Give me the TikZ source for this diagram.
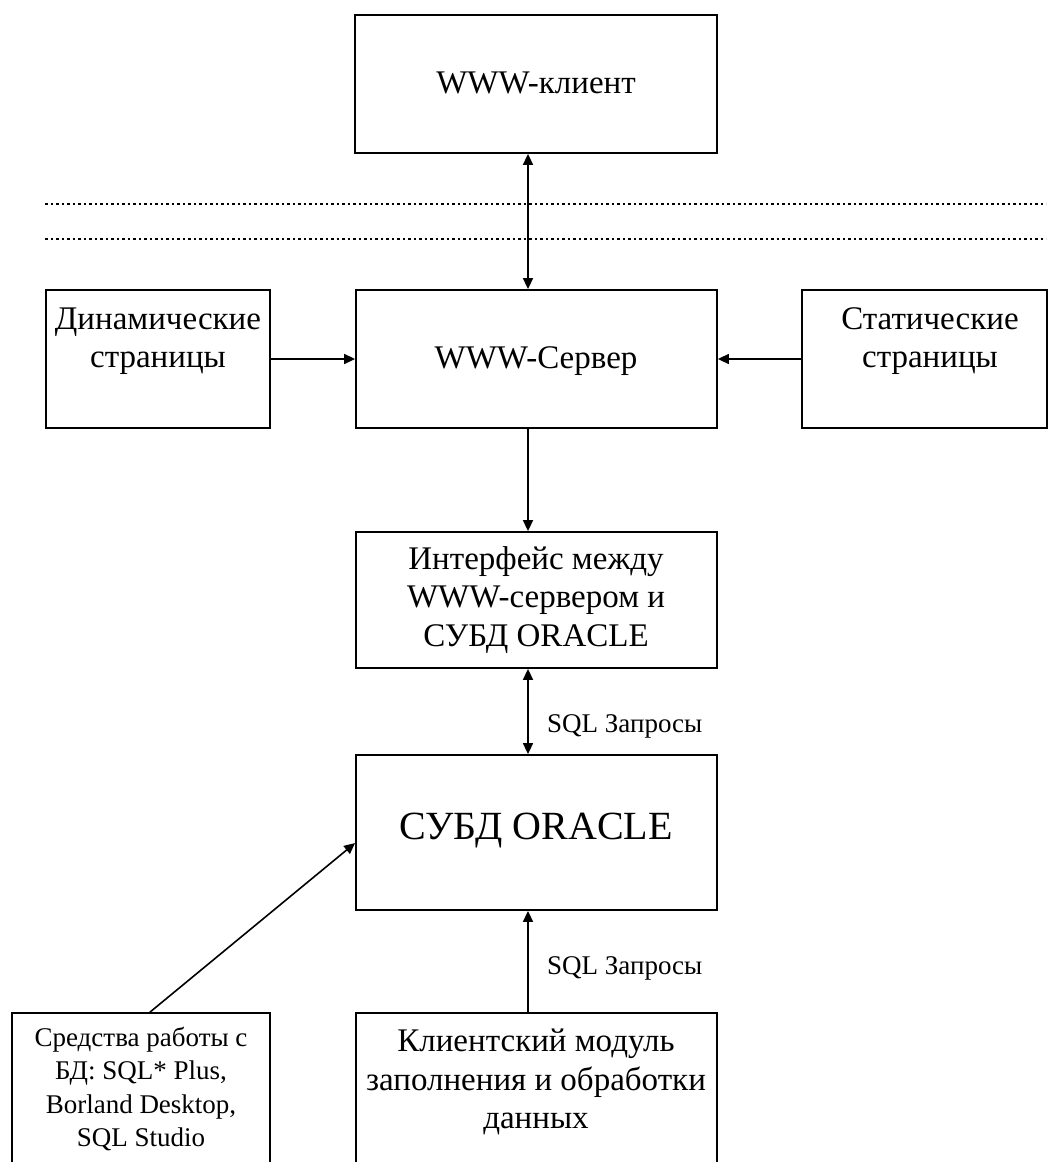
\documentclass[tikz,border=0pt]{standalone}
\usepackage{fontspec}
\setmainfont{Liberation Serif}
\usetikzlibrary{arrows.meta}
\tikzset{
  box/.style={draw, line width=1.8pt, rectangle, inner sep=0pt},
  txt/.style={align=center, inner sep=0pt, font=\fontsize{33}{38.5}\selectfont},
  smalltxt/.style={align=center, inner sep=0pt, font=\fontsize{27}{33.5}\selectfont},
  lbl/.style={inner sep=0pt, anchor=west, font=\fontsize{27}{33}\selectfont},
  tip/.style={Triangle[length=11pt,width=10pt]},
  conn/.style={line width=1.6pt, -{Triangle[length=11pt,width=10pt]}},
  biconn/.style={line width=1.6pt, {Triangle[length=11pt,width=10pt]}-{Triangle[length=11pt,width=10pt]}},
  dotline/.style={line width=1.8pt, dash pattern=on 2.5pt off 3pt}
}
\begin{document}
\begin{tikzpicture}[x=1pt,y=-1pt]
\useasboundingbox (0,0) rectangle (1048,1162);
\clip (0,0) rectangle (1048,1162);
% boxes
\node[box, minimum width=362, minimum height=138] (client) at (536,84) {};
\node[box, minimum width=224, minimum height=138] (dyn) at (158,359) {};
\node[box, minimum width=361, minimum height=138] (server) at (536.5,359) {};
\node[box, minimum width=245, minimum height=138] (static) at (924.5,359) {};
\node[box, minimum width=361, minimum height=136] (iface) at (536.5,600) {};
\node[box, minimum width=361, minimum height=155] (subd) at (536.5,832.5) {};
\node[box, minimum width=258, minimum height=200] (tools) at (141,1113) {};
\node[box, minimum width=361, minimum height=200] (klient) at (536.5,1113) {};
% texts
\node[txt] (clientT) at (536,83) {WWW-клиент};
\node[txt] (dynT) at (158,341) {Динамические\\страницы};
\node[txt] (serverT) at (536,361) {WWW-Сервер};
\node[txt] (staticT) at (930,341) {Статические\\страницы};
\node[txt] (ifaceT) at (536,600) {Интерфейс между\\WWW-сервером и\\СУБД ORACLE};
\node[txt, font=\fontsize{40}{46}\selectfont] (subdT) at (536,831) {СУБД ORACLE};
\node[txt] (klientT) at (536,1082) {Клиентский модуль\\заполнения и обработки\\данных};
\node[smalltxt] (toolsT) at (141,1089) {Средства работы с\\БД: SQL* Plus,\\Borland Desktop,\\SQL Studio};
% helper coordinates
\coordinate (ax) at (528,0);
\coordinate (tx) at (150,0);
\coordinate (ty) at (0,843);
\coordinate (d1a) at (45,204);
\coordinate (d1b) at (1046,204);
\coordinate (d2a) at (45,239);
\coordinate (d2b) at (1046,239);
% dotted lines
\draw[dotline] (d1a) -- (d1b);
\draw[dotline] (d2a) -- (d2b);
% connectors
\draw[biconn] (client.south -| ax) -- (server.north -| ax);
\draw[conn] (dyn.east) -- (server.west);
\draw[conn] (static.west) -- (server.east);
\draw[conn] (server.south -| ax) -- (iface.north -| ax);
\draw[biconn] (iface.south -| ax) -- (subd.north -| ax);
\draw[conn] (klient.north -| ax) -- (subd.south -| ax);
\draw[conn] (tools.north -| tx) -- (subd.west |- ty);
% labels
\node[lbl] (sql1) at (547,726) {SQL Запросы};
\node[lbl] (sql2) at (547,968) {SQL Запросы};
\end{tikzpicture}
\end{document}
